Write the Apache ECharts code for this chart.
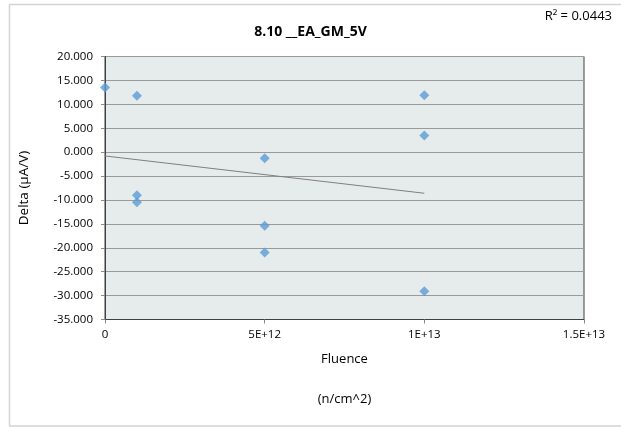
<!DOCTYPE html>
<html>
<head>
<meta charset="utf-8">
<script src="https://cdn.jsdelivr.net/npm/echarts@6/dist/echarts.min.js"></script>
<style>
html,body{margin:0;padding:0;background:#fff;}
#c{width:621px;height:427px;}
</style>
</head>
<body>
<div id="c"></div>
<script>
const fluence = [0, 1e12, 1e12, 1e12, 5e12, 5e12, 5e12, 1e13, 1e13, 1e13];
const delta = [13.5, 11.8, -9.0, -10.5, -1.3, -15.4, -21.0, 11.9, 3.5, -29.1];
const trendX = [0, 1e13];
const trendY = [-0.8, -8.6];
const xTicks = {0: '0', 5e12: '5E+12', 1e13: '1E+13', 1.5e13: '1.5E+13'};
const titleText = '8.10 __EA_GM_5V';
const r2Text = 'R² = 0.0443';

const font = '"Open Sans", "Noto Sans", sans-serif';
const chart = echarts.init(document.getElementById('c'), null, {renderer: 'canvas'});
chart.setOption({
  animation: false,
  backgroundColor: '#fff',
  textStyle: {fontFamily: font},
  title: {
    text: titleText, left: 'center', top: 20,
    textStyle: {fontSize: 14, fontWeight: 'bold', color: '#000', fontFamily: font}
  },
  graphic: [
    {type: 'rect', shape: {x: 9.5, y: 4.5, width: 700, height: 421.5},
     style: {fill: 'none', stroke: '#D4D4D4', lineWidth: 1.5}, z: -1},
    {type: 'text', right: 9, top: 10,
     style: {text: r2Text, font: '13px ' + font, fill: '#000'}}
  ],
  grid: {left: 105, right: 37, top: 56.5, bottom: 107.5, show: true,
         backgroundColor: '#E6ECEC', borderColor: '#404040', borderWidth: 1},
  xAxis: {
    type: 'value', min: 0, max: 1.5e13, interval: 5e12,
    name: 'Fluence\n\n(n/cm^2)', nameLocation: 'middle', nameGap: 30,
    nameTextStyle: {fontSize: 13, color: '#000', lineHeight: 20, fontFamily: font},
    axisLine: {onZero: false, lineStyle: {color: '#404040'}},
    axisTick: {show: true, length: 4, lineStyle: {color: '#888'}},
    splitLine: {show: false},
    axisLabel: {color: '#000', fontSize: 11.5, margin: 9, formatter: v => xTicks[v] ?? ''}
  },
  yAxis: {
    type: 'value', min: -35, max: 20, interval: 5,
    name: 'Delta (µA/V)', nameLocation: 'middle', nameGap: 74, nameRotate: 90,
    nameTextStyle: {fontSize: 13.5, color: '#000', fontFamily: font},
    axisLine: {show: true, onZero: false, lineStyle: {color: '#404040'}},
    axisTick: {show: true, length: 4, lineStyle: {color: '#888'}},
    splitLine: {lineStyle: {color: '#9A9A9A', width: 1}},
    axisLabel: {color: '#000', fontSize: 11.5, margin: 12, formatter: v => v.toFixed(3)}
  },
  series: [
    {type: 'line', data: trendX.map((x, i) => [x, trendY[i]]), symbol: 'none',
     lineStyle: {color: '#7F7F7F', width: 1}, z: 2},
    {type: 'scatter', data: fluence.map((x, i) => [x, delta[i]]), symbol: 'diamond',
     symbolSize: 10, itemStyle: {color: '#5B9BD5'}, clip: false, z: 3}
  ]
});
</script>
</body>
</html>
